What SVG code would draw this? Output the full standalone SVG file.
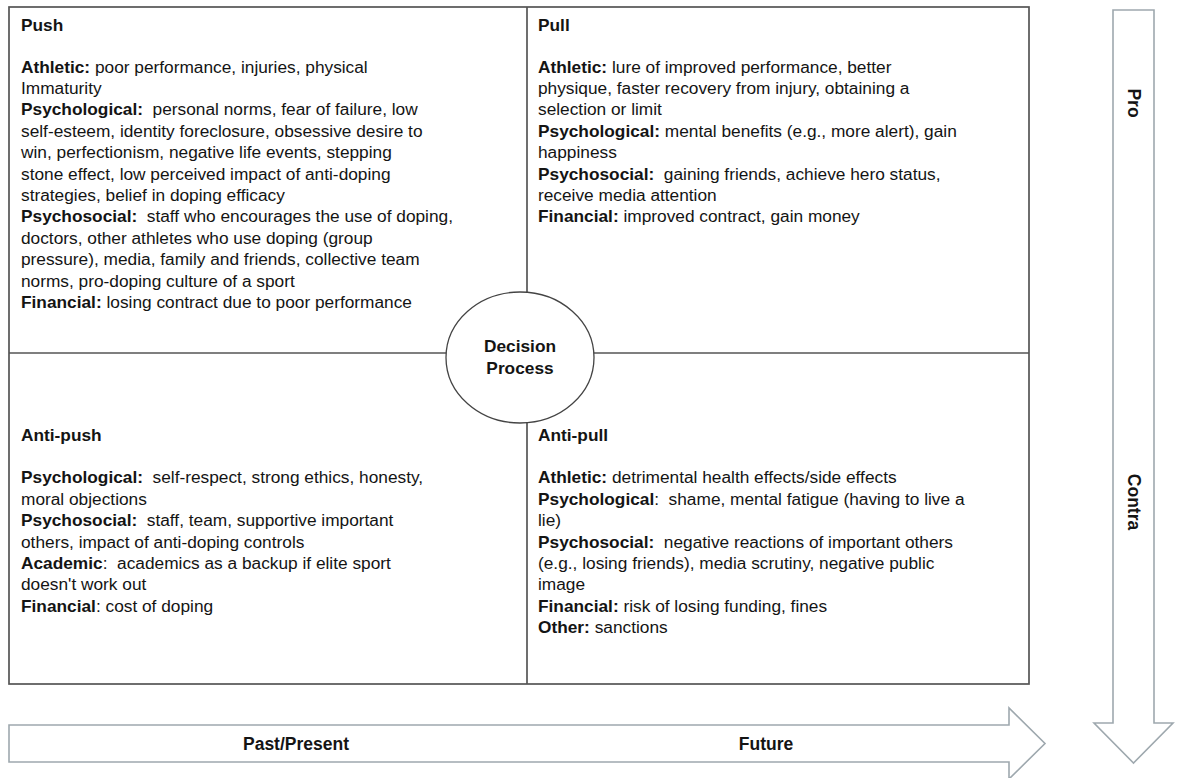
<svg xmlns="http://www.w3.org/2000/svg" width="1179" height="778" viewBox="0 0 1179 778">
<style>
.t{font-family:"Liberation Sans",Arial,sans-serif;font-size:17.3px;fill:#141414}
.b{font-weight:bold}
.h{font-family:"Liberation Sans",Arial,sans-serif;font-size:17.3px;font-weight:bold;fill:#141414}
.box{fill:none;stroke:#555;stroke-width:1.7}
.arr{fill:#fff;stroke:#9ea8ae;stroke-width:1.6;stroke-linejoin:miter}
.al{font-family:"Liberation Sans",Arial,sans-serif;font-size:17.5px;font-weight:bold;fill:#141414;text-anchor:middle}
</style>
<rect width="1179" height="778" fill="#fff"/>
<g id="grid">
<rect class="box" x="9" y="7" width="1020" height="677"/>
<line class="box" x1="527" y1="7" x2="527" y2="684"/>
<line class="box" x1="9" y1="353" x2="1029" y2="353"/>
</g>
<g id="push">
<text class="h" x="21" y="30.5">Push</text>
<text class="t" x="21" y="72.5">
<tspan x="21" y="72.5"><tspan class="b">Athletic:</tspan> poor performance, injuries, physical</tspan>
<tspan x="21" y="93.9">Immaturity</tspan>
<tspan x="21" y="115.3"><tspan class="b">Psychological:</tspan>&#160; personal norms, fear of failure, low</tspan>
<tspan x="21" y="136.7">self-esteem, identity foreclosure, obsessive desire to</tspan>
<tspan x="21" y="158.1">win, perfectionism, negative life events, stepping</tspan>
<tspan x="21" y="179.5">stone effect, low perceived impact of anti-doping</tspan>
<tspan x="21" y="200.9">strategies, belief in doping efficacy</tspan>
<tspan x="21" y="222.3"><tspan class="b">Psychosocial:</tspan>&#160; staff who encourages the use of doping,</tspan>
<tspan x="21" y="243.7">doctors, other athletes who use doping (group</tspan>
<tspan x="21" y="265.1">pressure), media, family and friends, collective team</tspan>
<tspan x="21" y="286.5">norms, pro-doping culture of a sport</tspan>
<tspan x="21" y="307.9"><tspan class="b">Financial:</tspan> losing contract due to poor performance</tspan>
</text>
</g>
<g id="pull">
<text class="h" x="538" y="30.5">Pull</text>
<text class="t" x="538" y="72.5">
<tspan x="538" y="72.5"><tspan class="b">Athletic:</tspan> lure of improved performance, better</tspan>
<tspan x="538" y="93.9">physique, faster recovery from injury, obtaining a</tspan>
<tspan x="538" y="115.3">selection or limit</tspan>
<tspan x="538" y="136.7"><tspan class="b">Psychological:</tspan> mental benefits (e.g., more alert), gain</tspan>
<tspan x="538" y="158.1">happiness</tspan>
<tspan x="538" y="179.5"><tspan class="b">Psychosocial:</tspan>&#160; gaining friends, achieve hero status,</tspan>
<tspan x="538" y="200.9">receive media attention</tspan>
<tspan x="538" y="222.3"><tspan class="b">Financial:</tspan> improved contract, gain money</tspan>
</text>
</g>
<g id="anti-push">
<text class="h" x="21" y="440.5">Anti-push</text>
<text class="t" x="21" y="483.3">
<tspan x="21" y="483.3"><tspan class="b">Psychological:</tspan>&#160; self-respect, strong ethics, honesty,</tspan>
<tspan x="21" y="504.7">moral objections</tspan>
<tspan x="21" y="526.1"><tspan class="b">Psychosocial:</tspan>&#160; staff, team, supportive important</tspan>
<tspan x="21" y="547.5">others, impact of anti-doping controls</tspan>
<tspan x="21" y="568.9"><tspan class="b">Academic</tspan>:&#160; academics as a backup if elite sport</tspan>
<tspan x="21" y="590.3">doesn't work out</tspan>
<tspan x="21" y="611.7"><tspan class="b">Financial</tspan>: cost of doping</tspan>
</text>
</g>
<g id="anti-pull">
<text class="h" x="538" y="440.5">Anti-pull</text>
<text class="t" x="538" y="483.3">
<tspan x="538" y="483.3"><tspan class="b">Athletic:</tspan> detrimental health effects/side effects</tspan>
<tspan x="538" y="504.7"><tspan class="b">Psychological</tspan>:&#160; shame, mental fatigue (having to live a</tspan>
<tspan x="538" y="526.1">lie)</tspan>
<tspan x="538" y="547.5"><tspan class="b">Psychosocial:</tspan>&#160; negative reactions of important others</tspan>
<tspan x="538" y="568.9">(e.g., losing friends), media scrutiny, negative public</tspan>
<tspan x="538" y="590.3">image</tspan>
<tspan x="538" y="611.7"><tspan class="b">Financial:</tspan> risk of losing funding, fines</tspan>
<tspan x="538" y="633.1"><tspan class="b">Other:</tspan> sanctions</tspan>
</text>
</g>
<g id="decision">
<ellipse cx="520" cy="357.5" rx="74" ry="65.5" fill="#fff" stroke="#444" stroke-width="1.3"/>
<text class="h" x="520" y="352.3" text-anchor="middle">Decision</text>
<text class="h" x="520" y="373.5" text-anchor="middle">Process</text>
</g>
<g id="time-arrow">
<polygon class="arr" points="9,725 1009,725 1009,708 1045,743.5 1009,779 1009,762 9,762"/>
<text class="al" x="296" y="749.5">Past/Present</text>
<text class="al" x="766" y="749.5">Future</text>
</g>
<g id="pro-contra-arrow">
<polygon class="arr" points="1113,10 1154,10 1154,723 1173,723 1133.5,763 1094,723 1113,723"/>
<text class="al" transform="translate(1127.5,103) rotate(90)">Pro</text>
<text class="al" transform="translate(1127.5,502) rotate(90)">Contra</text>
</g>
</svg>
